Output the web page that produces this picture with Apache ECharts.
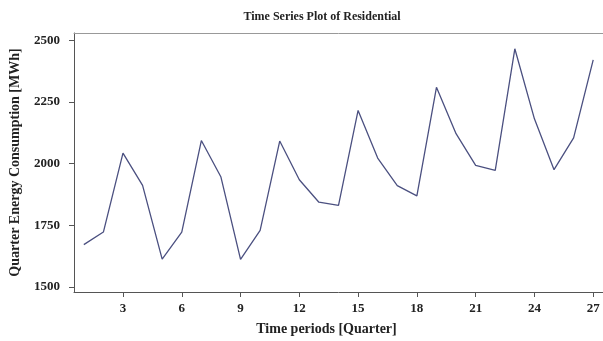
<!DOCTYPE html>
<html>
<head>
<meta charset="utf-8">
<style>
  html, body { margin: 0; padding: 0; background: #ffffff; }
  #chart { width: 603px; height: 341px; }
</style>
<script src="https://cdn.jsdelivr.net/npm/echarts@6/dist/echarts.min.js"></script>
</head>
<body>
<div id="chart"></div>
<script>
// Quarterly residential energy consumption (MWh), periods 1..27
const periods = [1, 2, 3, 4, 5, 6, 7, 8, 9, 10, 11, 12, 13, 14, 15, 16, 17, 18, 19, 20, 21, 22, 23, 24, 25, 26, 27];
const consumption = [1672, 1723, 2043, 1912, 1613, 1723, 2094, 1946, 1612, 1730, 2092, 1935, 1844, 1831, 2216, 2023, 1911, 1870, 2310, 2122, 1993, 1973, 2466, 2182, 1976, 2105, 2421];
const xTicks = [3, 6, 9, 12, 15, 18, 21, 24, 27];
const yTicks = [1500, 1750, 2000, 2250, 2500];

const serif = '"Liberation Serif", "DejaVu Serif", serif';
const axisColor = '#555555';
const plain = (v) => String(v);

const chart = echarts.init(document.getElementById('chart'), null, { renderer: 'canvas' });

chart.setOption({
  animation: false,
  backgroundColor: '#ffffff',
  title: {
    text: 'Time Series Plot of Residential',
    left: 317,
    top: 6,
    textAlign: 'center',
    textStyle: { fontFamily: serif, fontWeight: 'bold', fontSize: 12, color: '#222222' }
  },
  grid: { left: 72, right: 0, top: 33, bottom: 49, containLabel: false },
  xAxis: [
    {
      type: 'value',
      min: 0.5,
      max: 27.5,
      name: 'Time periods [Quarter]',
      nameLocation: 'middle',
      nameGap: 30,
      nameTextStyle: { fontFamily: serif, fontWeight: 'bold', fontSize: 14, color: '#222222', padding: [0, 24, 0, 0] },
      axisLine: { show: true, lineStyle: { color: axisColor, width: 1 } },
      axisTick: { show: true, length: 5, inside: false, customValues: xTicks, lineStyle: { color: axisColor } },
      axisLabel: { show: true, customValues: xTicks, margin: 10, formatter: plain, fontFamily: serif, fontWeight: 'bold', fontSize: 13, color: '#222222' },
      splitLine: { show: false }
    },
    {
      type: 'value',
      position: 'top',
      min: 0.5,
      max: 27.5,
      axisLine: { show: true, onZero: false, lineStyle: { color: '#999999', width: 1 } },
      axisTick: { show: false },
      axisLabel: { show: false },
      splitLine: { show: false }
    }
  ],
  yAxis: {
    type: 'value',
    min: 1480,
    max: 2530,
    name: 'Quarter Energy Consumption [MWh]',
    nameLocation: 'middle',
    nameGap: 52,
    nameTextStyle: { fontFamily: serif, fontWeight: 'bold', fontSize: 14, color: '#222222' },
    axisLine: { show: true, lineStyle: { color: axisColor, width: 1 } },
    axisTick: { show: true, length: 5, inside: false, customValues: yTicks, lineStyle: { color: axisColor } },
    axisLabel: { show: true, customValues: yTicks, margin: 14, formatter: plain, fontFamily: serif, fontWeight: 'bold', fontSize: 13, color: '#222222' },
    splitLine: { show: false }
  },
  series: [
    {
      type: 'line',
      xAxisIndex: 0,
      data: periods.map((p, i) => [p, consumption[i]]),
      showSymbol: false,
      symbol: 'none',
      lineStyle: { color: '#4b5080', width: 1.3 }
    }
  ]
});
</script>
</body>
</html>
